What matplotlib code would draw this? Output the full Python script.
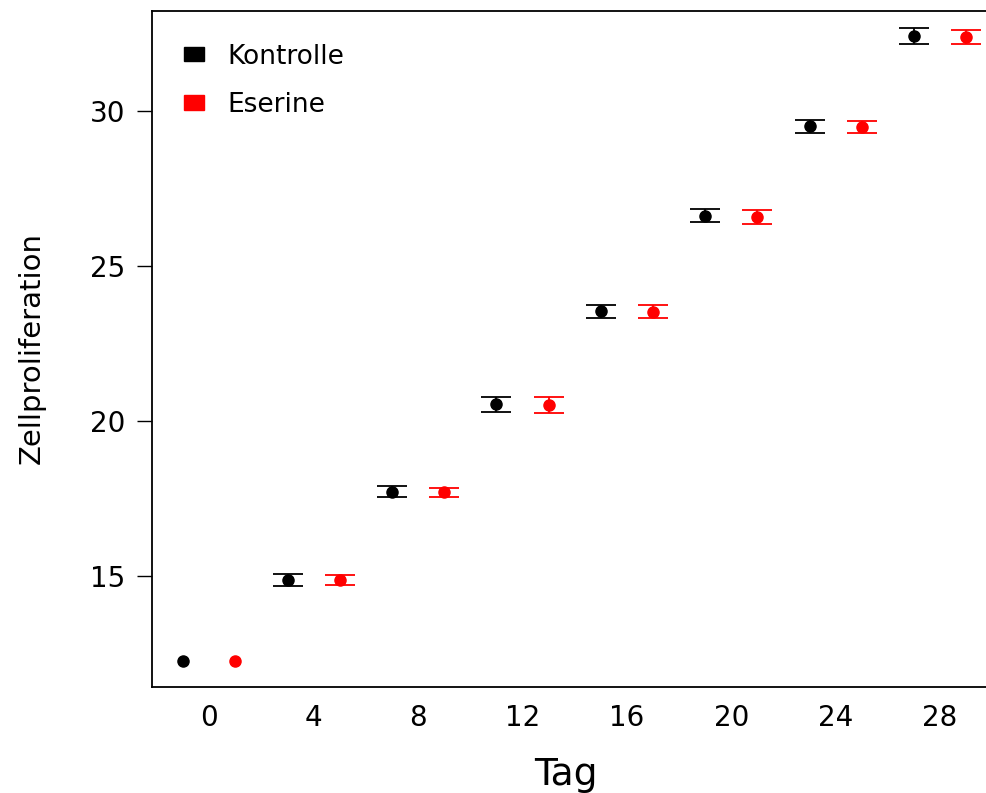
import numpy as np
import matplotlib.pyplot as plt
from matplotlib.patches import Patch

# Daten
tage = [0, 4, 8, 12, 16, 20, 24, 28]
kontrolle = [12.25, 14.85, 17.71, 20.53, 23.53, 26.61, 29.50, 32.41]
kontrolle_err = [0.0, 0.19, 0.17, 0.24, 0.22, 0.21, 0.20, 0.25]
eserine = [12.25, 14.86, 17.69, 20.51, 23.52, 26.58, 29.47, 32.39]
eserine_err = [0.0, 0.17, 0.15, 0.25, 0.20, 0.23, 0.19, 0.23]

pos = np.arange(len(tage))
offset = 0.25

fig = plt.figure(figsize=(9.86, 7.93), dpi=100)
ax = fig.add_axes([0.1542, 0.1337, 0.8458, 0.8524])

for werte, fehler, farbe, dx in [(kontrolle, kontrolle_err, 'black', -offset),
                                 (eserine, eserine_err, 'red', offset)]:
    werte = np.array(werte)
    fehler = np.array(fehler)
    x = pos + dx
    m = fehler > 0
    ax.errorbar(x[m], werte[m], yerr=fehler[m], fmt='none', ecolor=farbe,
                capsize=11, elinewidth=1.3, capthick=1.3)
    ax.plot(x, werte, 'o', color=farbe, markersize=8)

ax.set_xlim(-0.549, 7.44)
ax.set_ylim(11.41, 33.22)

ax.set_xticks(pos)
ax.set_xticklabels([str(t) for t in tage])
ax.set_yticks([15, 20, 25, 30])
ax.tick_params(axis='x', length=0, pad=12, labelsize=20)
ax.tick_params(axis='y', length=11, width=1, pad=8, labelsize=20)

ax.spines['right'].set_visible(False)
for s in ['left', 'bottom', 'top']:
    ax.spines[s].set_linewidth(1.3)

ax.set_xlabel('Tag', fontsize=27)
ax.xaxis.set_label_coords(0.496, -0.104)
ax.set_ylabel('Zellproliferation', fontsize=21)
ax.yaxis.set_label_coords(-0.128, 0.501)

handles = [Patch(facecolor='black', edgecolor='black', label='Kontrolle'),
           Patch(facecolor='red', edgecolor='red', label='Eserine')]
ax.legend(handles=handles, loc='upper left', bbox_to_anchor=(0.01, 0.987),
          frameon=False, fontsize=19, handlelength=0.75, handleheight=0.45,
          handletextpad=0.9, labelspacing=0.85)

plt.savefig('out.png', dpi=100)
